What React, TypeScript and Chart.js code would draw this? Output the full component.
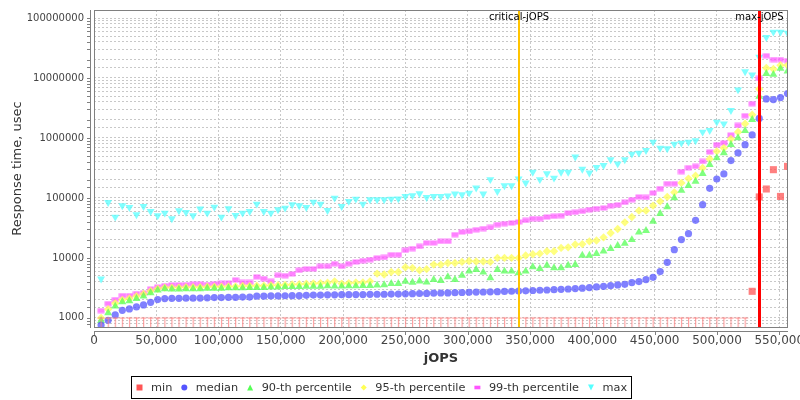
import React, { useEffect, useRef } from 'react';
import { Chart, registerables } from 'chart.js';

Chart.register(...registerables);

// ---------------- data ----------------
const jops = [
  5680, 11360, 17040, 22720, 28400, 34080, 39760, 45440, 51120, 56800,
  62480, 68160, 73840, 79520, 85200, 90880, 96560, 102240, 107920, 113600,
  119280, 124960, 130640, 136320, 142000, 147680, 153360, 159040, 164720, 170400,
  176080, 181760, 187440, 193120, 198800, 204480, 210160, 215840, 221520, 227200,
  232880, 238560, 244240, 249920, 255600, 261280, 266960, 272640, 278320, 284000,
  289680, 295360, 301040, 306720, 312400, 318080, 323760, 329440, 335120, 340800,
  346480, 352160, 357840, 363520, 369200, 374880, 380560, 386240, 391920, 397600,
  403280, 408960, 414640, 420320, 426000, 431680, 437360, 443040, 448720, 454400,
  460080, 465760, 471440, 477120, 482800, 488480, 494160, 499840, 505520, 511200,
  516880, 522560, 528240, 533920, 539600, 545280, 550960, 556640,
];

const minRt = [
  1000, 1000, 1000, 1000, 1000, 1000, 1000, 1000, 1000, 1000,
  1000, 1000, 1000, 1000, 1000, 1000, 1000, 1000, 1000, 1000,
  1000, 1000, 1000, 1000, 1000, 1000, 1000, 1000, 1000, 1000,
  1000, 1000, 1000, 1000, 1000, 1000, 1000, 1000, 1000, 1000,
  1000, 1000, 1000, 1000, 1000, 1000, 1000, 1000, 1000, 1000,
  1000, 1000, 1000, 1000, 1000, 1000, 1000, 1000, 1000, 1000,
  1000, 1000, 1000, 1000, 1000, 1000, 1000, 1000, 1000, 1000,
  1000, 1000, 1000, 1000, 1000, 1000, 1000, 1000, 1000, 1000,
  1000, 1000, 1000, 1000, 1000, 1000, 1000, 1000, 1000, 1000,
  1000, 1000, 2775, 104000, 141000, 296000, 106000, 336000,
];

const medianRt = [
  760, 912, 1122, 1339, 1413, 1525, 1648, 1820, 2018, 2100,
  2120, 2120, 2130, 2130, 2140, 2160, 2180, 2180, 2200, 2200,
  2220, 2220, 2300, 2300, 2320, 2320, 2340, 2350, 2350, 2380,
  2400, 2400, 2420, 2420, 2440, 2440, 2450, 2450, 2470, 2480,
  2480, 2500, 2500, 2520, 2530, 2550, 2560, 2580, 2600, 2610,
  2630, 2650, 2670, 2690, 2700, 2720, 2740, 2760, 2780, 2800,
  2830, 2860, 2890, 2920, 2950, 2990, 3030, 3080, 3130, 3200,
  3280, 3365, 3450, 3550, 3630, 3875, 4030, 4350, 4750, 5910,
  8450, 13700, 20200, 25400, 42300, 77300, 144500, 207000, 251000, 419000,
  562000, 774000, 1122000, 2120000, 4470000, 4360000, 4710000, 5500000,
];

const p90Rt = [
  902, 1212, 1561, 1848, 1920, 2098, 2290, 2610, 2885, 3040,
  3000, 3000, 3050, 3050, 3050, 3100, 3100, 3100, 3150, 3150,
  3150, 3200, 3200, 3200, 3250, 3250, 3300, 3300, 3300, 3350,
  3350, 3350, 3400, 3365, 3365, 3400, 3400, 3450, 3450, 3500,
  3550, 3730, 3730, 4070, 3900, 4100, 3920, 4350, 4180, 4830,
  4350, 5120, 5980, 6380, 5760, 4640, 6380, 5980, 5980, 5620,
  5980, 7080, 6630, 7520, 6810, 6810, 7520, 7730, 11000, 11000,
  11800, 12900, 14300, 16000, 17500, 20100, 26800, 28500, 40700, 54800,
  70800, 100000, 133000, 160000, 189000, 254000, 359000, 464000, 562000, 773000,
  1000000, 1320000, 2020000, 4930000, 11800000, 11400000, 14400000, 13000000,
];

const p95Rt = [
  1000, 1400, 1750, 2000, 2100, 2300, 2500, 2800, 3050, 3200,
  3200, 3200, 3250, 3250, 3250, 3300, 3300, 3300, 3350, 3350,
  3400, 3400, 3450, 3450, 3500, 3500, 3550, 3600, 3650, 3700,
  3750, 3800, 3850, 4070, 3730, 3800, 3900, 3900, 4070, 5480,
  5300, 5830, 5830, 6980, 6800, 6220, 6500, 7730, 7730, 8250,
  8250, 8580, 8900, 8700, 8700, 8580, 10000, 10000, 10000, 10000,
  11000, 11500, 11800, 12900, 12900, 14700, 15000, 16700, 17000, 18900,
  19500, 22000, 26100, 30400, 39200, 48200, 61400, 61400, 74400, 87700,
  104000, 124000, 178000, 210000, 235000, 316000, 447000, 598000, 681000, 962000,
  1260000, 1730000, 2440000, 6560000, 14700000, 14100000, 16300000, 16300000,
];

const p99Rt = [
  1323, 1730, 2018, 2355, 2355, 2540, 2610, 3040, 3280, 3450,
  3550, 3550, 3570, 3650, 3650, 3600, 3700, 3750, 3800, 4300,
  3900, 3900, 4830, 4520, 4070, 5120, 5060, 5410, 6220, 6560,
  6560, 7250, 7250, 8000, 7250, 8000, 8580, 9000, 9350, 10000,
  10200, 11300, 11300, 13400, 14300, 15600, 17800, 17800, 18900, 18900,
  24400, 27000, 27700, 29500, 30800, 32300, 35900, 37300, 38300, 39800,
  42300, 45200, 45200, 48200, 49500, 50800, 56200, 57600, 59900, 63800,
  66300, 68100, 74400, 76700, 84500, 93700, 104000, 102000, 121000, 143000,
  173000, 173000, 274000, 320000, 336000, 407000, 585000, 773000, 826000, 1120000,
  1620000, 2350000, 3730000, 9850000, 23500000, 20300000, 20300000, 19500000,
];

const maxRt = [
  4470, 84500, 48200, 74400, 69700, 52700, 72400, 59800, 50700, 56200,
  45200, 61400, 57500, 50700, 65600, 56200, 70800, 48200, 66300, 51300,
  56200, 59800, 79400, 59800, 56200, 63800, 68100, 77300, 74400, 69700,
  85800, 79400, 62100, 100000, 72400, 88000, 96000, 79400, 94000, 94000,
  94000, 96000, 97000, 106000, 110000, 118000, 102000, 106000, 106000, 109000,
  117000, 114000, 121000, 147000, 117000, 203000, 129000, 161000, 161000, 209000,
  178000, 270000, 203000, 254000, 215000, 270000, 270000, 483000, 303000, 262000,
  324000, 349000, 435000, 372000, 435000, 541000, 562000, 621000, 857000, 681000,
  663000, 794000, 826000, 857000, 902000, 1260000, 1340000, 1850000, 1730000, 2880000,
  6380000, 12800000, 11300000, 22400000, 47500000, 58400000, 58400000, 56200000,
];

const seriesNames = ['min', 'median', '90-th percentile', '95-th percentile', '99-th percentile', 'max'];
const xTickValues = [0, 50000, 100000, 150000, 200000, 250000, 300000, 350000, 400000, 450000, 500000, 550000];
const criticalJops = 341100;
const maxJops = 533920;
const xAxisMax = 557000;
const yAxisMin = 705;
const yAxisMax = 136000000;

// ---------------- styling ----------------
const FONT = '"DejaVu Sans", "Liberation Sans", sans-serif';
const RGB = ['255,85,85', '85,85,255', '85,255,85', '255,255,85', '255,85,255', '85,255,255'];
const ALPHA = 0.75;
const SHAPES = ['square', 'circle', 'triangle', 'diamond', 'hrect', 'dtriangle'];

function makeCanvas(w: number, h: number, draw: (c: CanvasRenderingContext2D) => void) {
  const cv = document.createElement('canvas');
  cv.width = w;
  cv.height = h;
  const c = cv.getContext('2d')!;
  draw(c);
  return cv;
}

function drawShape(ctx: CanvasRenderingContext2D, kind: string, x: number, y: number, s: number, fill: string) {
  ctx.fillStyle = fill;
  ctx.beginPath();
  const h = s / 2;
  switch (kind) {
    case 'square':
      ctx.rect(x - h, y - h, s, s);
      break;
    case 'circle':
      ctx.arc(x, y, h, 0, Math.PI * 2);
      break;
    case 'triangle':
      ctx.moveTo(x, y - h);
      ctx.lineTo(x + h, y + h);
      ctx.lineTo(x - h, y + h);
      ctx.closePath();
      break;
    case 'diamond':
      ctx.moveTo(x, y - h);
      ctx.lineTo(x + h, y);
      ctx.lineTo(x, y + h);
      ctx.lineTo(x - h, y);
      ctx.closePath();
      break;
    case 'hrect':
      ctx.rect(x - h, y - h * 0.6, s, s * 0.6);
      break;
    case 'dtriangle':
      ctx.moveTo(x - h, y - h);
      ctx.lineTo(x + h, y - h);
      ctx.lineTo(x, y + h);
      ctx.closePath();
      break;
  }
  ctx.fill();
}

const legendPlugin = {
  id: 'boxLegend',
  afterDraw(chart: any) {
    const ctx: CanvasRenderingContext2D = chart.ctx;
    ctx.save();
    ctx.font = `11.3px ${FONT}`;
    const pad = 5;
    const mk = 7;
    const gapMT = 8;
    const gapItem = 8.5;
    let total = pad * 2 - 1;
    const widths = seriesNames.map((n) => ctx.measureText(n).width);
    widths.forEach((w, i) => {
      total += mk + gapMT + w + (i < widths.length - 1 ? gapItem : 0);
    });
    total = Math.round(total);
    const left = 131;
    const top = 376.5;
    const hgt = 22;
    ctx.fillStyle = '#fff';
    ctx.fillRect(left, top, total, hgt);
    ctx.strokeStyle = '#000';
    ctx.lineWidth = 1;
    ctx.strokeRect(left + 0.5, top, total, hgt);
    const cy = top + hgt / 2;
    let x = left + pad;
    ctx.textBaseline = 'middle';
    ctx.textAlign = 'left';
    seriesNames.forEach((n, i) => {
      drawShape(ctx, SHAPES[i], x + mk / 2, cy, 6, `rgb(${RGB[i]})`);
      x += mk + gapMT;
      ctx.fillStyle = '#333';
      ctx.fillText(n, x, cy + 0.5);
      x += widths[i] + gapItem;
    });
    ctx.restore();
  },
};

const decorPlugin = {
  id: 'decor',
  afterDatasetsDraw(chart: any) {
    const ctx: CanvasRenderingContext2D = chart.ctx;
    const { top, bottom, left, right } = chart.chartArea;
    const xs = chart.scales.x;
    const ys = chart.scales.y;
    ctx.save();
    // marker lines
    const cx = Math.round(xs.getPixelForValue(criticalJops));
    ctx.strokeStyle = 'rgb(255,196,0)';
    ctx.lineWidth = 2;
    ctx.beginPath();
    ctx.moveTo(cx, top);
    ctx.lineTo(cx, bottom);
    ctx.stroke();
    const mx = Math.round(xs.getPixelForValue(maxJops)) + 0.5;
    ctx.strokeStyle = 'rgb(255,0,0)';
    ctx.lineWidth = 3;
    ctx.beginPath();
    ctx.moveTo(mx, top);
    ctx.lineTo(mx, bottom);
    ctx.stroke();
    // plot frame
    ctx.strokeStyle = 'rgb(128,128,128)';
    ctx.lineWidth = 1;
    ctx.strokeRect(left + 0.5, top + 0.5, right - left - 1, bottom - top);
    // labels
    ctx.fillStyle = '#000';
    ctx.font = `10px ${FONT}`;
    ctx.textAlign = 'center';
    ctx.textBaseline = 'middle';
    ctx.fillText('critical-jOPS', cx, 17);
    ctx.fillText('max-jOPS', mx, 17);
    // offset axes
    ctx.strokeStyle = 'rgb(128,128,128)';
    ctx.beginPath();
    ctx.moveTo(90.5, top);
    ctx.lineTo(90.5, bottom + 1);
    ctx.moveTo(left, 331.5);
    ctx.lineTo(right, 331.5);
    ys.ticks.forEach((t: any) => {
      if (t.value <= yAxisMin || t.value >= yAxisMax) return;
      const py = Math.round(ys.getPixelForValue(t.value)) + 0.5;
      ctx.moveTo(87, py);
      ctx.lineTo(90.5, py);
    });
    xs.ticks.forEach((t: any) => {
      const px = Math.round(xs.getPixelForValue(t.value)) + 0.5;
      ctx.moveTo(px, 331.5);
      ctx.lineTo(px, 335);
    });
    ctx.stroke();
    ctx.restore();
  },
};

function buildConfig() {
  const tImg = makeCanvas(9, 20, (c) => {
    c.fillStyle = 'rgba(255,130,130,0.75)';
    c.fillRect(1.5, 9.5, 6, 1.2);
    c.fillRect(4, 9.5, 1.2, 10);
  });
  const hrectImg = makeCanvas(8, 6, (c) => {
    c.fillStyle = `rgba(${RGB[4]},${ALPHA})`;
    c.fillRect(0.5, 0.5, 7, 5);
  });
  const series = [minRt, medianRt, p90Rt, p95Rt, p99Rt, maxRt];
  const styles: any[] = [
    { pointStyle: (c: any) => (c.raw && c.raw.y <= 1000 ? tImg : 'rect'), pointRadius: 5, pointRotation: 0 },
    { pointStyle: 'circle', pointRadius: 3.6, pointRotation: 0 },
    { pointStyle: 'triangle', pointRadius: 4.6, pointRotation: 0 },
    { pointStyle: 'rectRot', pointRadius: 4.2, pointRotation: 0 },
    { pointStyle: hrectImg, pointRadius: 4, pointRotation: 0 },
    { pointStyle: 'triangle', pointRadius: 4.6, pointRotation: 180 },
  ];
  const datasets = series.map((arr, i) => ({
    label: seriesNames[i],
    data: jops.map((x, k) => ({ x, y: arr[k] })),
    showLine: false,
    backgroundColor: `rgba(${RGB[i]},${ALPHA})`,
    borderColor: `rgba(${RGB[i]},${ALPHA})`,
    borderWidth: 0,
    pointBorderWidth: 0,
    ...styles[i],
  }));
  const gridColor = 'rgb(200,200,200)';
  return {
    type: 'scatter' as const,
    data: { datasets },
    plugins: [decorPlugin, legendPlugin],
    options: {
      responsive: false,
      animation: false,
      events: [],
      layout: { padding: { left: 0, right: 12, top: 10, bottom: 0 } },
      plugins: { legend: { display: false }, tooltip: { enabled: false } },
      scales: {
        x: {
          type: 'linear',
          position: 'bottom',
          min: 0,
          max: xAxisMax,
          afterBuildTicks: (s: any) => {
            s.ticks = xTickValues.map((v) => ({ value: v }));
          },
          ticks: {
            autoSkip: false,
            maxRotation: 0,
            padding: 7,
            color: '#444',
            font: { family: FONT, size: 12 },
            callback: (v: number) => Number(v).toLocaleString('en-US'),
          },
          grid: { color: gridColor, drawTicks: false, lineWidth: 1 },
          border: { display: false, dash: [2, 2] },
          title: {
            display: true,
            text: 'jOPS',
            color: '#333',
            font: { family: FONT, size: 13, weight: 'bold' },
            padding: { top: 4, bottom: 34 },
          },
          afterFit: (s: any) => {
            s.height = 73;
            s.paddingLeft = 0;
            s.paddingRight = 0;
          },
        },
        y: {
          type: 'logarithmic',
          min: yAxisMin,
          max: yAxisMax,
          ticks: {
            autoSkip: false,
            padding: 10,
            color: '#444',
            font: { family: FONT, size: 10 },
            callback: (v: number) => {
              const l = Math.log10(v);
              return Math.abs(l - Math.round(l)) < 1e-9 ? String(v) : '';
            },
          },
          grid: { color: gridColor, drawTicks: false, lineWidth: 1 },
          border: { display: false, dash: [2, 2] },
          title: {
            display: true,
            text: 'Response time, usec',
            color: '#333',
            font: { family: FONT, size: 13 },
            padding: { top: 10, bottom: 0 },
          },
          afterFit: (s: any) => {
            s.width = 94;
            s.paddingTop = 0;
            s.paddingBottom = 0;
          },
        },
      },
    },
  };
}

export default function App() {
  const ref = useRef<HTMLCanvasElement>(null);
  useEffect(() => {
    document.body.style.margin = '0';
    const chart = new Chart(ref.current as HTMLCanvasElement, buildConfig() as any);
    return () => chart.destroy();
  }, []);
  return (
    <div style={{ width: 800, height: 400, background: '#fff' }}>
      <canvas ref={ref} width={800} height={400} style={{ display: 'block', width: 800, height: 400 }} />
    </div>
  );
}
